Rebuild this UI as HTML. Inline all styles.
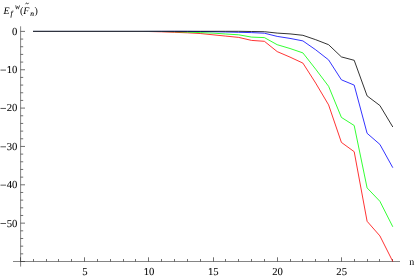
<!DOCTYPE html>
<html><head><meta charset="utf-8">
<style>
html,body{margin:0;padding:0;background:#fff;}
body{width:416px;height:277px;overflow:hidden;}
svg{display:block;}
svg{font-family:"Liberation Serif",serif;font-size:10px;fill:#000;will-change:transform;text-rendering:geometricPrecision;}
.i{font-style:italic;}
.t{font-size:10.7px;stroke:#000;stroke-width:0.06px;}
.sm{font-size:7.5px;font-style:italic;stroke:#000;stroke-width:0.1px;}
.ax line{stroke:#333;stroke-width:0.6;}
.ax .tk line{stroke-width:0.7;}
.s{fill:none;stroke-width:0.8;stroke-linejoin:round;}
</style></head><body>
<svg width="416" height="277" viewBox="0 0 416 277">
<rect width="416" height="277" fill="#fff"/>
<g class="ax">
<line x1="20.60" y1="26.3" x2="20.60" y2="266.6"/>
<line x1="13" y1="261.50" x2="400" y2="261.50"/>
<g class="tk">
<line x1="20.60" y1="31.40" x2="25.00" y2="31.40"/>
<line x1="20.60" y1="39.07" x2="23.20" y2="39.07"/>
<line x1="20.60" y1="46.74" x2="23.20" y2="46.74"/>
<line x1="20.60" y1="54.41" x2="23.20" y2="54.41"/>
<line x1="20.60" y1="62.08" x2="23.20" y2="62.08"/>
<line x1="20.60" y1="69.75" x2="25.00" y2="69.75"/>
<line x1="20.60" y1="77.42" x2="23.20" y2="77.42"/>
<line x1="20.60" y1="85.09" x2="23.20" y2="85.09"/>
<line x1="20.60" y1="92.76" x2="23.20" y2="92.76"/>
<line x1="20.60" y1="100.43" x2="23.20" y2="100.43"/>
<line x1="20.60" y1="108.10" x2="25.00" y2="108.10"/>
<line x1="20.60" y1="115.77" x2="23.20" y2="115.77"/>
<line x1="20.60" y1="123.44" x2="23.20" y2="123.44"/>
<line x1="20.60" y1="131.11" x2="23.20" y2="131.11"/>
<line x1="20.60" y1="138.78" x2="23.20" y2="138.78"/>
<line x1="20.60" y1="146.45" x2="25.00" y2="146.45"/>
<line x1="20.60" y1="154.12" x2="23.20" y2="154.12"/>
<line x1="20.60" y1="161.79" x2="23.20" y2="161.79"/>
<line x1="20.60" y1="169.46" x2="23.20" y2="169.46"/>
<line x1="20.60" y1="177.13" x2="23.20" y2="177.13"/>
<line x1="20.60" y1="184.80" x2="25.00" y2="184.80"/>
<line x1="20.60" y1="192.47" x2="23.20" y2="192.47"/>
<line x1="20.60" y1="200.14" x2="23.20" y2="200.14"/>
<line x1="20.60" y1="207.81" x2="23.20" y2="207.81"/>
<line x1="20.60" y1="215.48" x2="23.20" y2="215.48"/>
<line x1="20.60" y1="223.15" x2="25.00" y2="223.15"/>
<line x1="20.60" y1="230.82" x2="23.20" y2="230.82"/>
<line x1="20.60" y1="238.49" x2="23.20" y2="238.49"/>
<line x1="20.60" y1="246.16" x2="23.20" y2="246.16"/>
<line x1="20.60" y1="253.83" x2="23.20" y2="253.83"/>
<line x1="20.60" y1="261.50" x2="25.00" y2="261.50"/>
<line x1="20.50" y1="261.50" x2="20.50" y2="257.30"/>
<line x1="33.50" y1="261.50" x2="33.50" y2="259.00"/>
<line x1="46.50" y1="261.50" x2="46.50" y2="259.00"/>
<line x1="58.50" y1="261.50" x2="58.50" y2="259.00"/>
<line x1="71.50" y1="261.50" x2="71.50" y2="259.00"/>
<line x1="84.50" y1="261.50" x2="84.50" y2="257.30"/>
<line x1="97.50" y1="261.50" x2="97.50" y2="259.00"/>
<line x1="110.50" y1="261.50" x2="110.50" y2="259.00"/>
<line x1="123.50" y1="261.50" x2="123.50" y2="259.00"/>
<line x1="135.50" y1="261.50" x2="135.50" y2="259.00"/>
<line x1="148.50" y1="261.50" x2="148.50" y2="257.30"/>
<line x1="161.50" y1="261.50" x2="161.50" y2="259.00"/>
<line x1="174.50" y1="261.50" x2="174.50" y2="259.00"/>
<line x1="187.50" y1="261.50" x2="187.50" y2="259.00"/>
<line x1="200.50" y1="261.50" x2="200.50" y2="259.00"/>
<line x1="213.50" y1="261.50" x2="213.50" y2="257.30"/>
<line x1="225.50" y1="261.50" x2="225.50" y2="259.00"/>
<line x1="238.50" y1="261.50" x2="238.50" y2="259.00"/>
<line x1="251.50" y1="261.50" x2="251.50" y2="259.00"/>
<line x1="264.50" y1="261.50" x2="264.50" y2="259.00"/>
<line x1="277.50" y1="261.50" x2="277.50" y2="257.30"/>
<line x1="290.50" y1="261.50" x2="290.50" y2="259.00"/>
<line x1="302.50" y1="261.50" x2="302.50" y2="259.00"/>
<line x1="315.50" y1="261.50" x2="315.50" y2="259.00"/>
<line x1="328.50" y1="261.50" x2="328.50" y2="259.00"/>
<line x1="341.50" y1="261.50" x2="341.50" y2="257.30"/>
<line x1="354.50" y1="261.50" x2="354.50" y2="259.00"/>
<line x1="367.50" y1="261.50" x2="367.50" y2="259.00"/>
<line x1="379.50" y1="261.50" x2="379.50" y2="259.00"/>
<line x1="392.50" y1="261.50" x2="392.50" y2="259.00"/>
</g>
</g>
<g>
<text class="t" x="17.4" y="34.7" text-anchor="end">0</text>
<text class="t" x="17.4" y="73.0" text-anchor="end">10</text>
<line x1="0.5" y1="70.10" x2="6.0" y2="70.10" stroke="#111" stroke-width="0.7"/>
<text class="t" x="17.4" y="111.4" text-anchor="end">20</text>
<line x1="0.5" y1="108.45" x2="6.0" y2="108.45" stroke="#111" stroke-width="0.7"/>
<text class="t" x="17.4" y="149.8" text-anchor="end">30</text>
<line x1="0.5" y1="146.80" x2="6.0" y2="146.80" stroke="#111" stroke-width="0.7"/>
<text class="t" x="17.4" y="188.1" text-anchor="end">40</text>
<line x1="0.5" y1="185.15" x2="6.0" y2="185.15" stroke="#111" stroke-width="0.7"/>
<text class="t" x="17.4" y="226.5" text-anchor="end">50</text>
<line x1="0.5" y1="223.50" x2="6.0" y2="223.50" stroke="#111" stroke-width="0.7"/>
<text class="t" x="84.9" y="274.8" text-anchor="middle">5</text>
<text class="t" x="149.1" y="274.8" text-anchor="middle">10</text>
<text class="t" x="213.3" y="274.8" text-anchor="middle">15</text>
<text class="t" x="277.5" y="274.8" text-anchor="middle">20</text>
<text class="t" x="341.7" y="274.8" text-anchor="middle">25</text>
<text x="409.3" y="264.8">n</text>
</g>
<g>
<text class="i" x="3.6" y="13.5">E</text>
<text class="sm" x="10.6" y="16.4">f</text>
<text class="sm" x="15" y="9.4">w</text>
<text x="20" y="13.5">(</text>
<text class="i" x="23.3" y="13.5">F</text>
<path d="M25.5 4.2 C26.2 2.6 26.9 3.0 27.3 3.5 C27.7 4.0 28.2 3.9 28.7 2.9" fill="none" stroke="#000" stroke-width="0.75"/>
<text class="sm" x="30.2" y="15.9">n</text>
<text x="34.6" y="13.5">)</text>
</g>
<polyline class="s" stroke="#ff0000" points="33.2,31.3 46.1,31.3 58.9,31.3 71.8,31.3 84.6,31.3 97.4,31.3 110.3,31.3 123.1,31.3 136.0,31.3 148.8,31.5 161.6,31.8 174.5,32.3 187.3,32.8 200.2,33.5 213.0,34.8 225.8,36.1 238.7,37.4 251.5,40.4 264.4,41.3 277.2,51.6 290.0,57.1 302.9,63.1 315.7,83.1 328.6,104.9 341.4,142.4 354.2,151.7 367.1,221.3 379.9,235.9 392.8,261.5"/>
<polyline class="s" stroke="#00ff00" points="33.2,31.3 46.1,31.3 58.9,31.3 71.8,31.3 84.6,31.3 97.4,31.3 110.3,31.3 123.1,31.3 136.0,31.3 148.8,31.3 161.6,31.5 174.5,31.7 187.3,32.1 200.2,32.6 213.0,33.1 225.8,34.0 238.7,34.8 251.5,37.1 264.4,37.6 277.2,44.7 290.0,48.5 302.9,52.9 315.7,69.2 328.6,86.3 341.4,117.4 354.2,125.5 367.1,187.9 379.9,201.3 392.8,226.8"/>
<polyline class="s" stroke="#0000ff" points="33.2,31.3 46.1,31.3 58.9,31.3 71.8,31.3 84.6,31.3 97.4,31.3 110.3,31.3 123.1,31.3 136.0,31.3 148.8,31.3 161.6,31.3 174.5,31.3 187.3,31.4 200.2,31.5 213.0,31.7 225.8,32.0 238.7,32.3 251.5,32.6 264.4,33.2 277.2,36.4 290.0,38.4 302.9,40.9 315.7,49.8 328.6,59.9 341.4,79.8 354.2,85.1 367.1,133.3 379.9,144.4 392.8,167.7"/>
<polyline class="s" stroke="#000000" points="33.2,31.3 46.1,31.3 58.9,31.3 71.8,31.3 84.6,31.3 97.4,31.3 110.3,31.3 123.1,31.3 136.0,31.3 148.8,31.3 161.6,31.3 174.5,31.3 187.3,31.3 200.2,31.3 213.0,31.3 225.8,31.3 238.7,31.3 251.5,31.5 264.4,31.7 277.2,33.1 290.0,33.9 302.9,35.3 315.7,39.7 328.6,44.7 341.4,56.9 354.2,60.3 367.1,95.9 379.9,105.5 392.8,127.0"/>
<defs><linearGradient id="fd" gradientUnits="userSpaceOnUse" x1="33" y1="0" x2="190" y2="0"><stop offset="0" stop-color="#fff"/><stop offset="0.7" stop-color="#fff"/><stop offset="1" stop-color="#000"/></linearGradient>
<mask id="fm" maskUnits="userSpaceOnUse" x="0" y="0" width="416" height="277"><rect x="33" y="29" width="160" height="4" fill="url(#fd)"/></mask></defs>
<g mask="url(#fm)" shape-rendering="crispEdges">
<rect x="33" y="31" width="157" height="1" fill="#30343f"/>
<rect x="33" y="30" width="157" height="1" fill="#c4c7cf"/>
</g>
</svg>
</body></html>
